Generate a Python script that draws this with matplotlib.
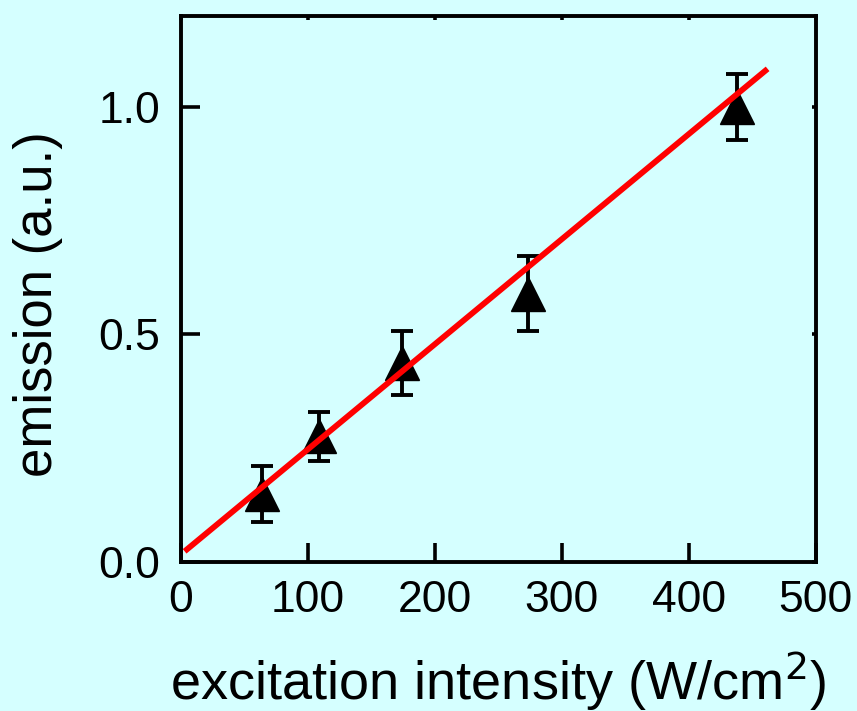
import numpy as np
import matplotlib.pyplot as plt

plt.rcParams['font.family'] = ['Liberation Sans', 'DejaVu Sans']

# measured emission vs excitation intensity
intensity = [64, 109, 174, 273, 438]
emission = [0.150, 0.276, 0.437, 0.590, 1.000]
emission_err = [0.062, 0.053, 0.070, 0.082, 0.073]

# linear fit
fit_slope = 0.00231
fit_intercept = 0.0165
fit_range = [3, 462]

bg = '#d5ffff'
fig = plt.figure(figsize=(8.57, 7.11), dpi=100, facecolor=bg)
ax = fig.add_axes([0.211, 0.2096, 0.741, 0.768], facecolor=bg)

fit_x = np.array(fit_range)
fit_y = fit_slope * fit_x + fit_intercept
ax.plot(fit_x, fit_y, color='#ff0000', lw=4.2, zorder=3, solid_capstyle='butt')

ax.errorbar(intensity, emission, yerr=emission_err, fmt='none', ecolor='black',
            elinewidth=2.8, capsize=8, capthick=2.8, zorder=2)
ax.plot(intensity, emission, '^', color='black', markersize=25, zorder=2)

ax.set_xlim(0, 500)
ax.set_ylim(0, 1.2)
ax.set_xticks([0, 100, 200, 300, 400, 500])
ax.set_yticks([0.0, 0.5, 1.0])
ax.set_yticklabels(['0.0', '0.5', '1.0'])

for s in ax.spines.values():
    s.set_linewidth(2.8)

ax.tick_params(axis='both', which='major', direction='in', length=14, width=2.6,
               labelsize=32)
ax.tick_params(axis='x', pad=13)
ax.tick_params(axis='y', pad=15)
ax.tick_params(top=True, right=True)
for t in ax.xaxis.get_major_ticks():
    t.tick2line.set_markersize(3)
for t in ax.yaxis.get_major_ticks():
    t.tick2line.set_markersize(3)

ax.set_xlabel('excitation intensity (W/cm$^2$)', fontsize=39)
ax.set_ylabel('emission (a.u.)', fontsize=38)
ax.xaxis.set_label_coords(0.5, -0.16)
ax.yaxis.set_label_coords(-0.185, 0.472)

fig.savefig('out.png', dpi=100, facecolor=bg)
